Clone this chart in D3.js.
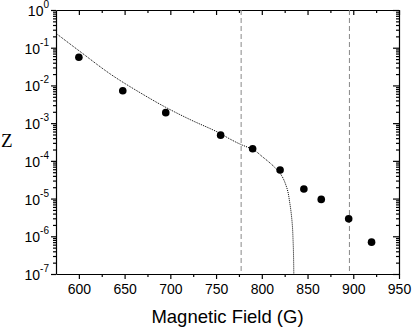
<!DOCTYPE html>
<html>
<head>
<meta charset="utf-8">
<script src="https://cdn.jsdelivr.net/npm/d3@7"></script>
<style>
  body { margin: 0; background: #fff; }
  svg { display: block; }
  .axis path, .axis line { stroke: #000; stroke-width: 1.2px; }
  .axis text { font-family: "Liberation Sans", Arial, sans-serif; font-size: 14px; fill: #000; }
</style>
</head>
<body>
<div id="chart"></div>
<script>
// measured points
var fieldPts = [600, 648, 695, 755, 790, 820, 846, 865, 895, 920];
var zPts = [5.6e-2, 7.2e-3, 1.9e-3, 4.8e-4, 2.1e-4, 5.7e-5, 1.8e-5, 9.5e-6, 2.9e-6, 7.0e-7];

// fitted curve
var fitField = [575, 600.1, 641.3, 666.8, 695.2, 721.4, 754.2, 765.1, 777.1, 789.1, 801.1, 819.7, 827.4, 830.6, 833.2, 834.3, 835.0];
var fitZ = [0.241, 0.0833, 0.0155, 0.00645, 0.00261, 0.00125, 5.38e-4, 3.80e-4, 2.72e-4, 2.06e-4, 1.26e-4, 4.76e-5, 1.91e-5, 7.63e-6, 2.25e-6, 6.64e-7, 1e-7];

// dashed markers
var markLines = [777.4, 895.8];

var xTicks = [600, 650, 700, 750, 800, 850, 900, 950];
var xMinor = [625, 675, 725, 775, 825, 875, 925];
var yExps = [0, -1, -2, -3, -4, -5, -6, -7];

var W = 415, H = 330;
var margin = {left: 56, top: 10, right: 16, bottom: 56};
var w = W - margin.left - margin.right;
var h = H - margin.top - margin.bottom;

var x = d3.scaleLinear().domain([575, 950]).range([0, w]);
var y = d3.scaleLog().domain([1e-7, 1]).range([h, 0]);

var svg = d3.select("#chart").append("svg")
  .attr("width", W)
  .attr("height", H);

var g = svg.append("g")
  .attr("transform", "translate(" + margin.left + "," + margin.top + ")");

g.append("clipPath").attr("id", "clip")
  .append("rect").attr("width", w).attr("height", h);

// y tick values, majors + minors
var yMajor = yExps.map(function(e){ return Math.pow(10, e); });
var yAll = [];
yExps.forEach(function(e){
  if (e === 0) return;
  for (var k = 1; k < 10; k++) yAll.push(k * Math.pow(10, e));
});
yAll.push(1);
function isMajorY(d){
  return yMajor.some(function(m){ return Math.abs(d / m - 1) < 1e-6; });
}

var xAll = xTicks.concat(xMinor);
function isMajorX(d){ return xTicks.indexOf(d) >= 0; }

// bottom axis
var bottomAx = g.append("g").attr("class", "axis")
  .attr("transform", "translate(0," + h + ")")
  .call(d3.axisBottom(x).tickValues(xAll).tickSizeOuter(0)
    .tickFormat(function(d){ return isMajorX(d) ? d : ""; }));
bottomAx.selectAll(".tick line").attr("y2", function(d){ return isMajorX(d) ? 5 : 3; });
bottomAx.selectAll(".tick text").attr("y", 10);

// top axis, same marks pointing in
var topAx = g.append("g").attr("class", "axis")
  .call(d3.axisBottom(x).tickValues(xAll).tickSizeOuter(0).tickFormat(""));
topAx.selectAll(".tick line").attr("y2", function(d){ return isMajorX(d) ? 5 : 3; });

// left axis
var leftAx = g.append("g").attr("class", "axis")
  .call(d3.axisLeft(y).tickValues(yAll).tickSizeOuter(0).tickFormat(""));
leftAx.selectAll(".tick line").attr("x2", function(d){ return isMajorY(d) ? -5 : -3; });

// right axis, ticks pointing in
var rightAx = g.append("g").attr("class", "axis")
  .attr("transform", "translate(" + w + ",0)")
  .call(d3.axisLeft(y).tickValues(yAll).tickSizeOuter(0).tickFormat(""));
rightAx.selectAll(".tick line").attr("x2", function(d){ return isMajorY(d) ? -6 : -3; });

// y labels as 10^n
var ylab = g.append("g")
  .attr("font-family", "Liberation Sans, Arial, sans-serif")
  .attr("text-anchor", "end");
yExps.forEach(function(e){
  var t = ylab.append("text")
    .attr("x", -7)
    .attr("y", y(Math.pow(10, e)) + 6)
    .attr("font-size", 14);
  t.append("tspan").text("10");
  t.append("tspan").attr("font-size", 10).attr("dy", -8).text(e === 0 ? "0" : "-" + (-e));
});

// dashed vertical lines
g.selectAll(".mark").data(markLines).enter().append("line")
  .attr("x1", d => x(d)).attr("x2", d => x(d))
  .attr("y1", 0).attr("y2", h)
  .attr("stroke", "#888")
  .attr("stroke-width", 1)
  .attr("stroke-dasharray", "5,3");

// fit curve
var fitData = fitField.map(function(f, i){ return {x: f, z: fitZ[i]}; });
g.append("path")
  .datum(fitData)
  .attr("clip-path", "url(#clip)")
  .attr("fill", "none")
  .attr("stroke", "#000")
  .attr("stroke-width", 1)
  .attr("stroke-dasharray", "1,1")
  .attr("d", d3.line().x(d => x(d.x)).y(d => y(d.z)).curve(d3.curveMonotoneY));

// points
var pts = fieldPts.map(function(f, i){ return {x: f, z: zPts[i]}; });
g.selectAll(".pt").data(pts).enter().append("circle")
  .attr("cx", d => x(d.x))
  .attr("cy", d => y(d.z))
  .attr("r", 3.8)
  .attr("fill", "#000");

// axis titles
svg.append("text")
  .attr("x", margin.left + w / 2)
  .attr("y", 323)
  .attr("text-anchor", "middle")
  .attr("font-family", "Liberation Sans, Arial, sans-serif")
  .attr("font-size", 18.5)
  .text("Magnetic Field (G)");

svg.append("text")
  .attr("x", 1)
  .attr("y", 147)
  .attr("font-family", "Liberation Serif, Times New Roman, serif")
  .attr("font-size", 19)
  .text("Z");
</script>
</body>
</html>
